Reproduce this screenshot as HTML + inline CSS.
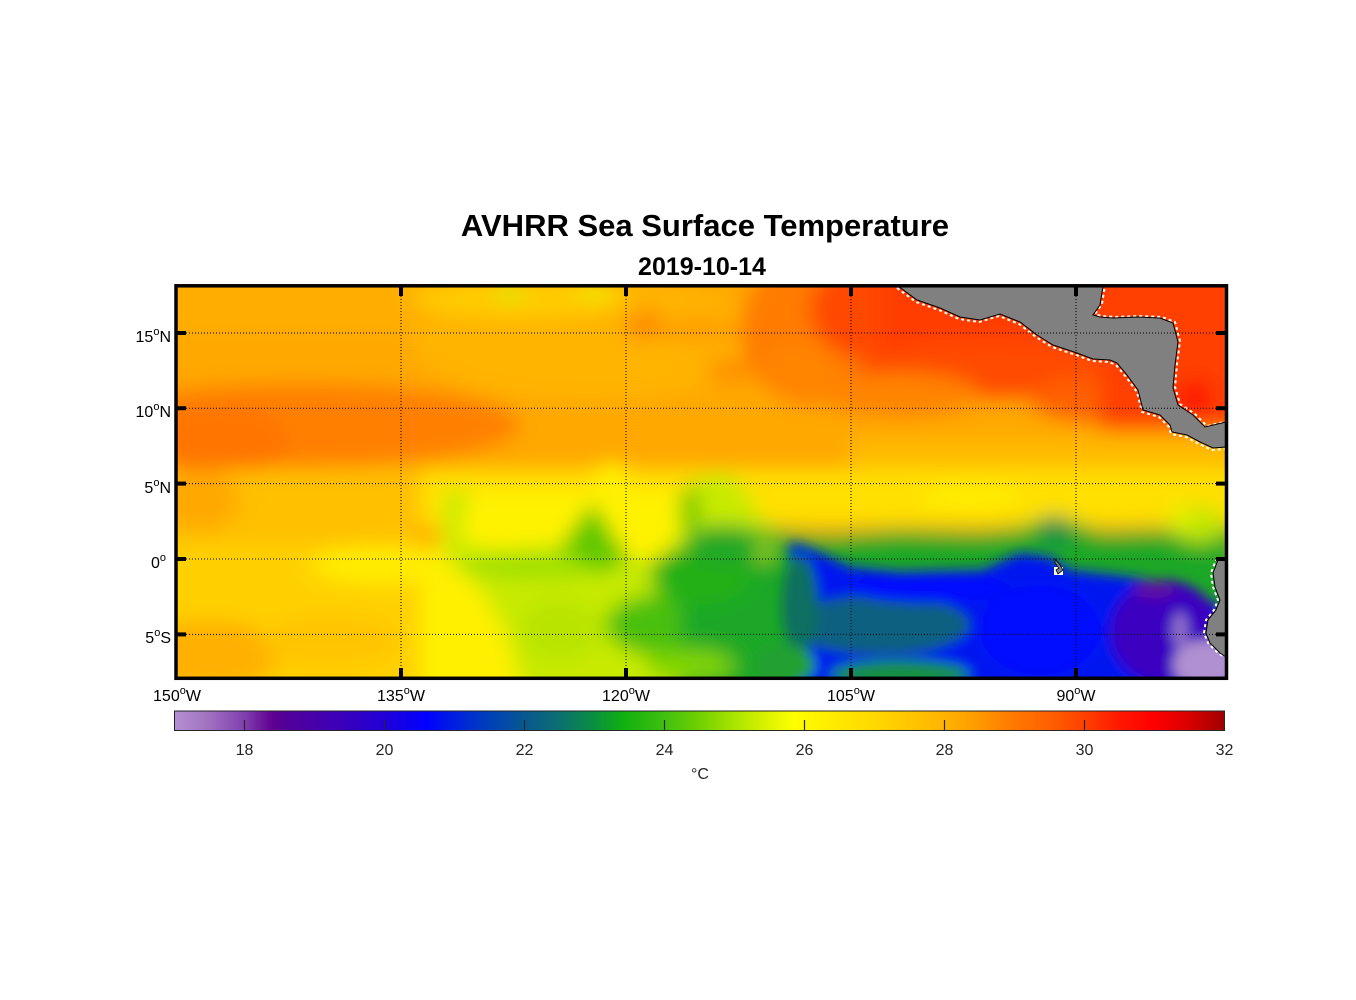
<!DOCTYPE html>
<html>
<head>
<meta charset="utf-8">
<style>
html,body{margin:0;padding:0;background:#fff;}
svg{display:block;}
text{font-family:"Liberation Sans",Arial,sans-serif;}
</style>
</head>
<body>
<svg width="1356" height="1000" viewBox="0 0 1356 1000" xmlns="http://www.w3.org/2000/svg">
<defs>
  <clipPath id="mapclip"><rect x="176" y="286" width="1050" height="392"/></clipPath>
  <filter id="blur" filterUnits="userSpaceOnUse" x="100" y="230" width="1200" height="520">
    <feGaussianBlur stdDeviation="10"/>
  </filter>
  <filter id="blur2" filterUnits="userSpaceOnUse" x="100" y="230" width="1200" height="520">
    <feGaussianBlur stdDeviation="6"/>
  </filter>
  <linearGradient id="cmap" x1="0" y1="0" x2="1" y2="0">
    <stop offset="0" stop-color="#b48fd0"/>
    <stop offset="0.033" stop-color="#a070c0"/>
    <stop offset="0.067" stop-color="#8040b0"/>
    <stop offset="0.093" stop-color="#600090"/>
    <stop offset="0.107" stop-color="#52009a"/>
    <stop offset="0.133" stop-color="#4800a8"/>
    <stop offset="0.167" stop-color="#3500c0"/>
    <stop offset="0.2" stop-color="#2000d8"/>
    <stop offset="0.24" stop-color="#0000ff"/>
    <stop offset="0.267" stop-color="#0020e0"/>
    <stop offset="0.3" stop-color="#0040b8"/>
    <stop offset="0.333" stop-color="#085890"/>
    <stop offset="0.367" stop-color="#0c7070"/>
    <stop offset="0.4" stop-color="#0a9040"/>
    <stop offset="0.427" stop-color="#10b010"/>
    <stop offset="0.467" stop-color="#40c010"/>
    <stop offset="0.5" stop-color="#70d000"/>
    <stop offset="0.533" stop-color="#a8e400"/>
    <stop offset="0.567" stop-color="#e0f400"/>
    <stop offset="0.59" stop-color="#ffff00"/>
    <stop offset="0.633" stop-color="#ffe800"/>
    <stop offset="0.667" stop-color="#ffd800"/>
    <stop offset="0.733" stop-color="#ffb400"/>
    <stop offset="0.767" stop-color="#ff9800"/>
    <stop offset="0.8" stop-color="#ff7800"/>
    <stop offset="0.833" stop-color="#ff6000"/>
    <stop offset="0.867" stop-color="#ff4000"/>
    <stop offset="0.9" stop-color="#ff1800"/>
    <stop offset="0.933" stop-color="#ff0000"/>
    <stop offset="0.967" stop-color="#d80000"/>
    <stop offset="1" stop-color="#a00000"/>
  </linearGradient>
</defs>

<!-- Titles -->
<text x="705" y="236" font-size="31" font-weight="bold" text-anchor="middle" fill="#000">AVHRR Sea Surface Temperature</text>
<text x="702" y="275" font-size="25" font-weight="bold" text-anchor="middle" fill="#000">2019-10-14</text>

<!-- SST field -->
<g clip-path="url(#mapclip)">
<g filter="url(#blur)">
  <rect x="120" y="240" width="1150" height="480" fill="#ffa800"/>
  <rect x="120" y="240" width="300" height="90" fill="#ffae00"/>
  <ellipse cx="590" cy="340" rx="180" ry="60" fill="#ffb400"/>
  <ellipse cx="520" cy="298" rx="110" ry="20" fill="#ffcc00"/>
  <ellipse cx="510" cy="293" rx="14" ry="7" fill="#d4ea00"/>
  <ellipse cx="595" cy="292" rx="18" ry="6" fill="#e6f000"/>
  <ellipse cx="645" cy="325" rx="20" ry="15" fill="#ff8c00"/>
  <ellipse cx="700" cy="330" rx="40" ry="15" fill="#ffa000"/>
  <ellipse cx="730" cy="370" rx="25" ry="12" fill="#ff9000"/>
  <!-- north east warm -->
  <ellipse cx="810" cy="330" rx="70" ry="75" fill="#ff7c00"/>
  <ellipse cx="870" cy="310" rx="60" ry="50" fill="#ff4800"/>
  <rect x="880" y="240" width="380" height="140" fill="#ff3c00"/>
  <ellipse cx="990" cy="370" rx="130" ry="30" fill="#ff4c00"/>
  <ellipse cx="1090" cy="400" rx="60" ry="22" fill="#ff6000"/>
  <rect x="1100" y="240" width="160" height="190" fill="#ff4000"/>
  <ellipse cx="1195" cy="398" rx="18" ry="18" fill="#ff1400"/>
  <ellipse cx="900" cy="395" rx="80" ry="22" fill="#ff8400"/>
  <ellipse cx="800" cy="370" rx="40" ry="30" fill="#ff8400"/>
  <!-- 10N band west -->
  <ellipse cx="300" cy="425" rx="220" ry="42" fill="#ff8000"/>
  <ellipse cx="220" cy="440" rx="70" ry="35" fill="#ff7400"/>
  <ellipse cx="345" cy="492" rx="30" ry="15" fill="#ff8a00"/>
  <!-- east mid -->
  <rect x="850" y="440" width="400" height="35" fill="#ffbc00"/>
  <!-- yellow band -->
  <rect x="420" y="470" width="850" height="55" fill="#ffe000"/>
  <ellipse cx="970" cy="497" rx="50" ry="14" fill="#ffec00"/>
  <rect x="120" y="470" width="300" height="80" fill="#ffc000"/>
  <ellipse cx="200" cy="500" rx="40" ry="30" fill="#ffa800"/>
  <rect x="440" y="492" width="260" height="70" fill="#fff200"/>
  <ellipse cx="612" cy="478" rx="18" ry="15" fill="#fff000"/>
  <!-- lower left -->
  <rect x="120" y="545" width="320" height="160" fill="#ffd000"/>
  <ellipse cx="380" cy="565" rx="70" ry="20" fill="#ffec00"/>
  <ellipse cx="210" cy="655" rx="70" ry="35" fill="#ffb000"/>
  <ellipse cx="330" cy="640" rx="70" ry="25" fill="#ffc400"/>
  <polygon points="420,560 445,560 479,587 506,633 525,700 420,700" fill="#fff000"/>
  <!-- yellow-green region A -->
  <polygon points="443,495 462,487 470,500 462,520 465,545 500,550 560,545 585,515 594,503 605,520 627,557 660,560 680,530 678,505 690,483 717,472 735,477 750,497 761,520 780,530 800,534 800,700 525,700 506,633 479,587 445,560" fill="#c8ea00"/>
  <ellipse cx="540" cy="565" rx="80" ry="14" fill="#a0e000"/>
  <polygon points="560,548 588,508 596,506 612,535 630,560 600,572" fill="#60c800"/>
  <ellipse cx="560" cy="630" rx="40" ry="30" fill="#b8e400"/>
  <ellipse cx="660" cy="625" rx="55" ry="30" fill="#48c010"/>
  <ellipse cx="690" cy="510" rx="10" ry="25" fill="#70c800"/>
  <ellipse cx="722" cy="495" rx="24" ry="16" fill="#c8ea00"/>
  <!-- green region B -->
  <rect x="680" y="560" width="120" height="140" fill="#1ea828"/>
  <ellipse cx="700" cy="575" rx="50" ry="30" fill="#20b018"/>
  <ellipse cx="725" cy="545" rx="40" ry="20" fill="#20a828"/>
  <ellipse cx="690" cy="665" rx="45" ry="16" fill="#80d400"/>
  <polygon points="750,525 790,532 830,535 900,530 980,532 1020,528 1045,518 1070,520 1100,532 1150,530 1226,528 1240,528 1240,700 780,700 770,540" fill="#1ea828"/>
  <ellipse cx="1055" cy="530" rx="15" ry="14" fill="#108a50"/>
  <ellipse cx="1200" cy="525" rx="25" ry="18" fill="#c0e600"/>
  <ellipse cx="1180" cy="520" rx="12" ry="15" fill="#e0f000"/>
</g>
<g filter="url(#blur2)">
  <!-- blue region C -->
  <polygon points="790,542 810,548 850,567 900,572 983,570 1020,553 1050,557 1070,570 1131,577 1150,580 1205,597 1240,620 1240,700 800,700 790,620" fill="#0014f0"/>
  <ellipse cx="880" cy="625" rx="90" ry="30" fill="#0c6080"/>
  <ellipse cx="800" cy="605" rx="18" ry="50" fill="#0a7060"/>
  <ellipse cx="930" cy="588" rx="80" ry="15" fill="#0008ff"/>
  <ellipse cx="1040" cy="630" rx="60" ry="45" fill="#0010ff"/>
  <ellipse cx="900" cy="674" rx="70" ry="14" fill="#159040"/>
  <ellipse cx="785" cy="665" rx="30" ry="20" fill="#20a030"/>
  <!-- purple -->
  <ellipse cx="1165" cy="632" rx="55" ry="52" fill="#3a00c0"/>
  <ellipse cx="1154" cy="590" rx="22" ry="8" fill="#6010a0"/>
  <ellipse cx="1180" cy="630" rx="8" ry="18" fill="#9070c8"/>
  <ellipse cx="1205" cy="665" rx="32" ry="25" fill="#b090d0"/>
</g>
</g>

<!-- Land: Central America -->
<g>
  <polyline points="898,286 917,300 940,308 960,317 980,320 1000,314 1020,322 1037,335 1053,345 1077,353 1093,359 1110,360 1117,363 1127,375 1138,390 1143,410 1160,415 1170,425 1172,432 1187,435 1200,442 1213,448 1226,447"
    fill="none" stroke="#fff" stroke-width="2" stroke-dasharray="3 3" transform="translate(-1,2)"/>
  <polyline points="1226,422 1205,427 1193,415 1178,405 1173,388 1175,365 1178,342 1173,323 1160,318 1137,317 1113,318 1100,317 1093,315 1100,305 1103,286"
    fill="none" stroke="#fff" stroke-width="2" stroke-dasharray="3 3" transform="translate(2,-1)"/>
  <polygon points="898,286 917,300 940,308 960,317 980,320 1000,314 1020,322 1037,335 1053,345 1077,353 1093,359 1110,360 1117,363 1127,375 1138,390 1143,410 1160,415 1170,425 1172,432 1187,435 1200,442 1213,448 1226,447 1226,422 1205,427 1193,415 1178,405 1173,388 1175,365 1178,342 1173,323 1160,318 1137,317 1113,318 1100,317 1093,315 1100,305 1103,286"
    fill="#808080" stroke="#000" stroke-width="1"/>
  <!-- South America -->
  <polyline points="1226,558 1218,560 1213,573 1215,587 1220,600 1216,610 1208,620 1206,633 1210,643 1220,653 1226,657"
    fill="none" stroke="#fff" stroke-width="2" stroke-dasharray="3 3" transform="translate(-2,0)"/>
  <polygon points="1226,558 1218,560 1213,573 1215,587 1220,600 1216,610 1208,620 1206,633 1210,643 1220,653 1226,657"
    fill="#808080" stroke="#000" stroke-width="1"/>
  <!-- Galapagos -->
  <rect x="1054" y="567" width="9" height="8" fill="#fff"/>
  <polygon points="1055,559 1060,565 1063,570 1058,574 1056,570 1059,568 1055,563" fill="#808080" stroke="#000" stroke-width="0.8"/>
</g>

<!-- Grid (dotted) -->
<g stroke="#000" stroke-width="1" stroke-dasharray="1 2" fill="none">
  <line x1="401" y1="287" x2="401" y2="677"/>
  <line x1="626" y1="287" x2="626" y2="677"/>
  <line x1="851" y1="287" x2="851" y2="677"/>
  <line x1="1076" y1="287" x2="1076" y2="677"/>
  <line x1="177" y1="333" x2="1225" y2="333"/>
  <line x1="177" y1="408.2" x2="1225" y2="408.2"/>
  <line x1="177" y1="483.6" x2="1225" y2="483.6"/>
  <line x1="177" y1="559" x2="1225" y2="559"/>
  <line x1="177" y1="634.4" x2="1225" y2="634.4"/>
</g>

<!-- Ticks -->
<g fill="#000">
  <rect x="399" y="287" width="4" height="9"/>
  <rect x="624" y="287" width="4" height="9"/>
  <rect x="849" y="287" width="4" height="9"/>
  <rect x="1074" y="287" width="4" height="9"/>
  <rect x="399" y="668" width="4" height="9"/>
  <rect x="624" y="668" width="4" height="9"/>
  <rect x="849" y="668" width="4" height="9"/>
  <rect x="1074" y="668" width="4" height="9"/>
  <rect x="177" y="331" width="9" height="4"/>
  <rect x="177" y="406.2" width="9" height="4"/>
  <rect x="177" y="481.6" width="9" height="4"/>
  <rect x="177" y="557" width="9" height="4"/>
  <rect x="177" y="632.4" width="9" height="4"/>
  <rect x="1216" y="331" width="9" height="4"/>
  <rect x="1216" y="406.2" width="9" height="4"/>
  <rect x="1216" y="481.6" width="9" height="4"/>
  <rect x="1216" y="557" width="9" height="4"/>
  <rect x="1216" y="632.4" width="9" height="4"/>
</g>

<!-- Frame -->
<rect x="176" y="285.8" width="1050.5" height="392.5" fill="none" stroke="#000" stroke-width="3.5"/>

<!-- Latitude labels -->
<g font-size="16" fill="#000" text-anchor="end">
  <text x="171" y="342">15<tspan font-size="11" dy="-7">o</tspan><tspan dy="7">N</tspan></text>
  <text x="171" y="417">10<tspan font-size="11" dy="-7">o</tspan><tspan dy="7">N</tspan></text>
  <text x="171" y="493">5<tspan font-size="11" dy="-7">o</tspan><tspan dy="7">N</tspan></text>
  <text x="166" y="568">0<tspan font-size="11" dy="-7">o</tspan></text>
  <text x="171" y="643">5<tspan font-size="11" dy="-7">o</tspan><tspan dy="7">S</tspan></text>
</g>

<!-- Longitude labels -->
<g font-size="16" fill="#000" text-anchor="middle">
  <text x="177" y="701">150<tspan font-size="11" dy="-7">o</tspan><tspan dy="7">W</tspan></text>
  <text x="401" y="701">135<tspan font-size="11" dy="-7">o</tspan><tspan dy="7">W</tspan></text>
  <text x="626" y="701">120<tspan font-size="11" dy="-7">o</tspan><tspan dy="7">W</tspan></text>
  <text x="851" y="701">105<tspan font-size="11" dy="-7">o</tspan><tspan dy="7">W</tspan></text>
  <text x="1076" y="701">90<tspan font-size="11" dy="-7">o</tspan><tspan dy="7">W</tspan></text>
</g>

<!-- Colorbar -->
<rect x="174.5" y="711" width="1050" height="19.5" fill="url(#cmap)" stroke="#262626" stroke-width="1"/>
<g stroke="#262626" stroke-width="1.2">
  <line x1="244.5" y1="720" x2="244.5" y2="730"/>
  <line x1="384.5" y1="720" x2="384.5" y2="730"/>
  <line x1="524.5" y1="720" x2="524.5" y2="730"/>
  <line x1="664.5" y1="720" x2="664.5" y2="730"/>
  <line x1="804.5" y1="720" x2="804.5" y2="730"/>
  <line x1="944.5" y1="720" x2="944.5" y2="730"/>
  <line x1="1084.5" y1="720" x2="1084.5" y2="730"/>
</g>
<g font-size="16" fill="#262626" text-anchor="middle">
  <text x="244.5" y="755">18</text>
  <text x="384.5" y="755">20</text>
  <text x="524.5" y="755">22</text>
  <text x="664.5" y="755">24</text>
  <text x="804.5" y="755">26</text>
  <text x="944.5" y="755">28</text>
  <text x="1084.5" y="755">30</text>
  <text x="1224.5" y="755">32</text>
  <text x="700" y="779">°C</text>
</g>
</svg>
</body>
</html>
